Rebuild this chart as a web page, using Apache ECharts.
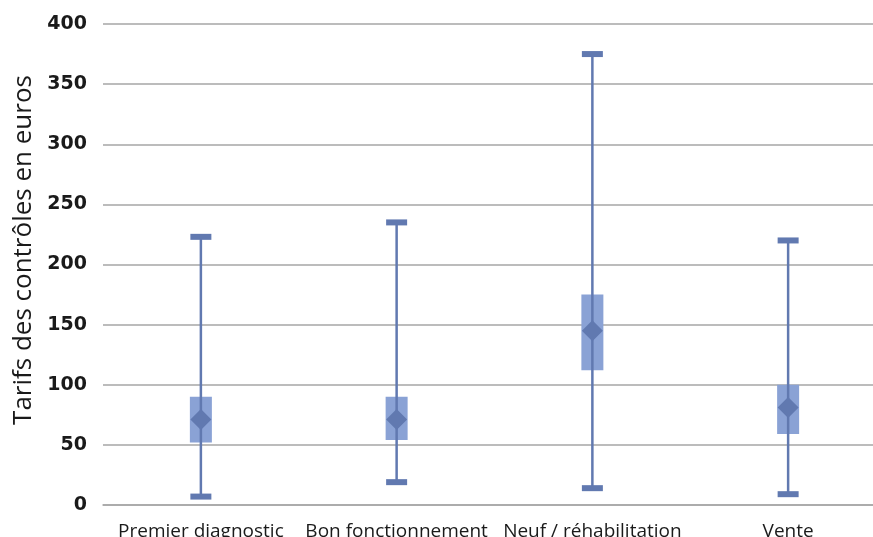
<!DOCTYPE html>
<html>
<head>
<meta charset="utf-8">
<script src="https://cdn.jsdelivr.net/npm/echarts@6/dist/echarts.min.js"></script>
<style>
html,body{margin:0;padding:0;background:#fff;}
#chart{width:873px;height:537px;}
</style>
</head>
<body>
<div id="chart"></div>
<script>
var categories = ['Premier diagnostic', 'Bon fonctionnement', 'Neuf / réhabilitation', 'Vente'];
var minValues  = [7, 19, 14, 9];
var q1Values   = [52, 54, 112, 59];
var midValues  = [71, 71, 145, 81];
var q3Values   = [90, 90, 175, 100];
var maxValues  = [223, 235, 375, 220];
var yTicks = { min: 0, max: 400, interval: 50 };
var yTitle = 'Tarifs des contrôles en euros';

var seriesData = categories.map(function (c, i) {
  return [i, minValues[i], q1Values[i], midValues[i], q3Values[i], maxValues[i]];
});

var BOX = '#8aa2d5';
var LINE = '#6179b0';

function renderItem(params, api) {
  var idx = api.value(0);
  var pMin = api.coord([idx, api.value(1)]);
  var pQ1 = api.coord([idx, api.value(2)]);
  var pMid = api.coord([idx, api.value(3)]);
  var pQ3 = api.coord([idx, api.value(4)]);
  var pMax = api.coord([idx, api.value(5)]);
  var x = pMin[0];
  var boxW = 22, capW = 21, capH = 6, dW = 10.5, dH = 10.5;
  return {
    type: 'group',
    children: [
      { type: 'rect', shape: { x: x - boxW / 2, y: pQ3[1], width: boxW, height: pQ1[1] - pQ3[1] },
        style: { fill: BOX } },
      { type: 'line', shape: { x1: x, y1: pMax[1], x2: x, y2: pMin[1] },
        style: { stroke: LINE, lineWidth: 2.5 } },
      { type: 'rect', shape: { x: x - capW / 2, y: pMax[1] - capH / 2, width: capW, height: capH },
        style: { fill: LINE } },
      { type: 'rect', shape: { x: x - capW / 2, y: pMin[1] - capH / 2, width: capW, height: capH },
        style: { fill: LINE } },
      { type: 'polygon', shape: { points: [[x, pMid[1] - dH], [x + dW, pMid[1]], [x, pMid[1] + dH], [x - dW, pMid[1]]] },
        style: { fill: LINE } }
    ]
  };
}

var chart = echarts.init(document.getElementById('chart'));
chart.setOption({
  animation: false,
  backgroundColor: '#ffffff',
  grid: { left: 103, top: 24, bottom: 32, width: 783, outerBoundsMode: 'none', containLabel: false },
  xAxis: {
    type: 'category',
    data: categories,
    boundaryGap: true,
    axisLine: { show: true, lineStyle: { color: '#a6a6a6', width: 1.5 } },
    axisTick: { show: false },
    axisLabel: { margin: 17, fontFamily: 'Open Sans', fontSize: 19, color: '#1a1a1a', interval: 0 }
  },
  yAxis: {
    type: 'value',
    min: yTicks.min, max: yTicks.max, interval: yTicks.interval,
    axisLine: { show: false },
    axisTick: { show: false },
    splitLine: { lineStyle: { color: '#a6a6a6', width: 1.5 } },
    axisLabel: { margin: 16, fontFamily: 'DejaVu Sans', fontWeight: 'bold', fontSize: 19, color: '#1a1a1a' }
  },
  graphic: [{
    type: 'text',
    x: 24, y: 250,
    rotation: Math.PI / 2,
    style: { text: yTitle, fontFamily: 'Open Sans', fontSize: 26, fill: '#1a1a1a', align: 'center', verticalAlign: 'middle' }
  }],
  series: [{
    type: 'custom',
    renderItem: renderItem,
    encode: { x: 0, y: [1, 2, 3, 4, 5] },
    data: seriesData
  }]
});
</script>
</body>
</html>
